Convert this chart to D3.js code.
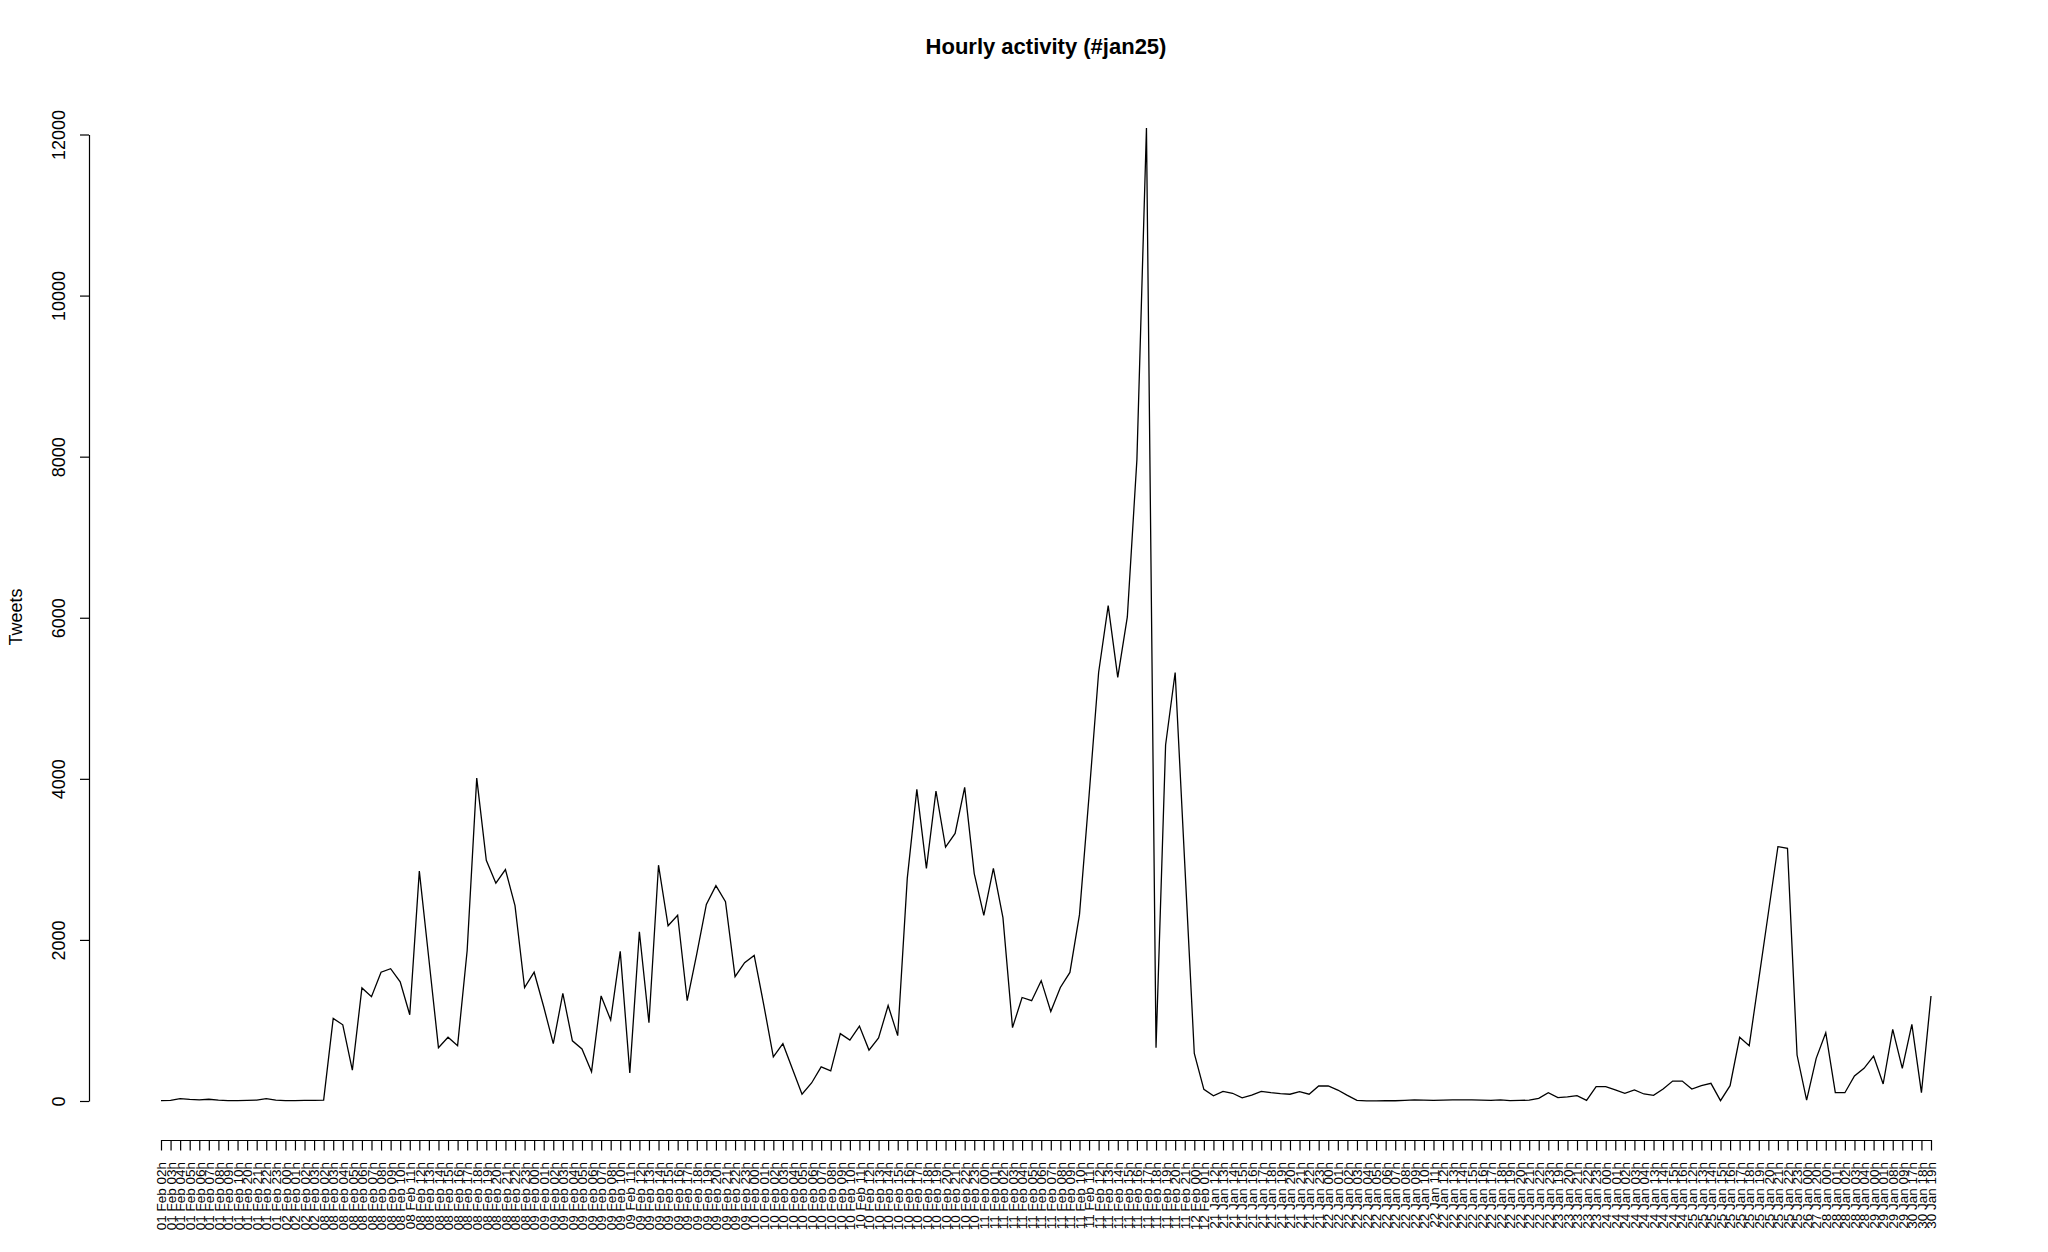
<!DOCTYPE html>
<html>
<head>
<meta charset="utf-8">
<script src="https://cdn.jsdelivr.net/npm/d3@7"></script>
<style>
  body { margin: 0; background: #fff; }
  svg { display: block; }
  text { font-family: "Liberation Sans", Arial, Helvetica, sans-serif; fill: #000; }
</style>
</head>
<body>
<div id="chart-area"></div>
<script>
/*
*    Hourly activity (#jan25)
*    tweets per hour, categories in string-sorted order
*/

// Days and the hours that have a count, in the order they are plotted
var days = ["01 Feb", "02 Feb", "08 Feb", "09 Feb", "10 Feb", "11 Feb", "12 Feb",
            "21 Jan", "22 Jan", "23 Jan", "24 Jan", "25 Jan", "26 Jan", "27 Jan",
            "28 Jan", "29 Jan", "30 Jan"];

var hours = [
    [2, 3, 4, 5, 6, 7, 8, 9, 10, 20, 21, 22, 23],
    [0, 1, 2, 3],
    [2, 3, 4, 5, 6, 7, 8, 9, 10, 11, 12, 13, 14, 15, 16, 17, 18, 19, 20, 21, 22, 23],
    [0, 1, 2, 3, 4, 5, 6, 7, 8, 10, 11, 12, 13, 14, 15, 16, 17, 18, 19, 20, 21, 22, 23],
    [0, 1, 2, 3, 4, 5, 6, 7, 8, 9, 10, 11, 12, 13, 14, 15, 16, 17, 18, 19, 20, 21, 22, 23],
    [0, 1, 2, 3, 4, 5, 6, 7, 8, 9, 10, 11, 12, 13, 14, 15, 16, 17, 18, 19, 20, 21],
    [0, 1],
    [12, 13, 14, 15, 16, 17, 18, 19, 20, 21, 22, 23],
    [0, 1, 2, 3, 4, 5, 6, 7, 8, 9, 10, 11, 12, 13, 14, 15, 16, 17, 18, 19, 20, 21, 22, 23],
    [19, 20, 21, 22, 23],
    [0, 1, 2, 3, 4, 13, 14, 15, 16],
    [12, 13, 14, 15, 16, 17, 18, 19, 20, 21, 22, 23],
    [0],
    [20],
    [0, 1, 2, 3, 4],
    [0, 1, 8, 9],
    [17, 18, 19]
];

// Tweets per hour
var tweets = [
    5, 8, 30, 20, 15, 22, 12, 5, 5, 8, 12, 30, 12,
    5, 5, 8, 8,
    12, 1025, 946, 383, 1404, 1295, 1599, 1643, 1479, 1071, 2854, 1760, 662, 792, 687, 1868,
    4009, 2988, 2704, 2873, 2425, 1409,
    1599, 1170, 712, 1335, 747, 647, 364, 1305, 1006, 1858, 349, 2102, 971, 2928, 2176, 2306,
    1245, 1828, 2440, 2674, 2475, 1544, 1718,
    1808, 1195, 548, 712, 398, 85, 224, 423, 373, 837, 757, 931, 632, 782, 1185, 812, 2764,
    3869, 2888, 3849, 3152, 3322, 3894, 2824,
    2306, 2888, 2276, 911, 1285, 1245, 1494, 1111, 1409, 1596, 2314, 3790, 5320, 6150, 5260,
    6010, 7960, 12080, 660, 4420, 5320, 2950,
    590, 144,
    64, 120, 96, 40, 72, 120, 104, 91, 84, 116, 84, 186,
    186, 136, 70, 8, 2, 2, 3, 3, 8, 14, 10, 8, 12, 15, 13, 15, 12, 8, 14, 5, 8, 10, 33, 104,
    41, 50, 66, 8, 178,
    178, 137, 95, 137, 87, 70, 149, 248, 248,
    149, 190, 219, 4, 190, 791, 687, 1511, 2334, 3158, 3137, 571,
    12,
    530,
    848, 103, 103, 310, 406,
    559, 211, 890, 406,
    952, 103, 1304
];

var yTicks = [0, 2000, 4000, 6000, 8000, 10000, 12000];

// Build the category labels
var labels = [];
days.forEach(function(day, i) {
    hours[i].forEach(function(h) {
        labels.push(day + " " + (h < 10 ? "0" + h : "" + h) + "h");
    });
});

var data = labels.map(function(l, i) {
    return { label: l, value: tweets[i] };
});

var width = 2048,
    height = 1252;

var svg = d3.select("#chart-area")
    .append("svg")
        .attr("width", width)
        .attr("height", height);

svg.append("rect")
    .attr("width", width)
    .attr("height", height)
    .attr("fill", "#fff");

// Scales
var x = d3.scalePoint()
    .domain(labels)
    .range([161, 1931])
    .padding(0);

var y = d3.scaleLinear()
    .domain([0, 12000])
    .range([1101, 134.5]);

// Title
svg.append("text")
    .attr("x", 1046)
    .attr("y", 54)
    .attr("font-size", "22px")
    .attr("font-weight", "bold")
    .attr("text-anchor", "middle")
    .text("Hourly activity (#jan25)");

// Y Label
svg.append("text")
    .attr("transform", "translate(22, 617) rotate(-90)")
    .attr("font-size", "18px")
    .attr("text-anchor", "middle")
    .text("Tweets");

// X Axis
var xAxisCall = d3.axisBottom(x)
    .tickSize(10.5)
    .tickSizeOuter(0);
var xAxis = svg.append("g")
    .attr("transform", "translate(0, 1140)")
    .call(xAxisCall);
xAxis.selectAll("text")
    .attr("font-size", "13.5px")
    .attr("font-family", "Liberation Sans, Arial, sans-serif")
    .attr("transform", "rotate(-90)")
    .attr("x", -22)
    .attr("y", 0)
    .attr("dy", "0.35em")
    .style("text-anchor", "end");

// Y Axis
var yAxisCall = d3.axisLeft(y)
    .tickValues(yTicks)
    .tickSize(9)
    .tickSizeOuter(0)
    .tickFormat(function(d){ return "" + d; });
var yAxis = svg.append("g")
    .attr("transform", "translate(89, 0)")
    .call(yAxisCall);
yAxis.selectAll("text")
    .attr("font-size", "18px")
    .attr("font-family", "Liberation Sans, Arial, sans-serif")
    .attr("transform", "rotate(-90)")
    .attr("x", 0)
    .attr("y", -24)
    .attr("dy", 0)
    .style("text-anchor", "middle");

svg.selectAll(".domain, .tick line")
    .attr("stroke", "#000")
    .attr("stroke-width", 1.2);

// Line
var line = d3.line()
    .x(function(d){ return x(d.label); })
    .y(function(d){ return y(d.value); });

svg.append("path")
    .datum(data)
    .attr("fill", "none")
    .attr("stroke", "#000")
    .attr("stroke-width", 1.3)
    .attr("stroke-linejoin", "miter")
    .attr("d", line);
</script>
</body>
</html>
